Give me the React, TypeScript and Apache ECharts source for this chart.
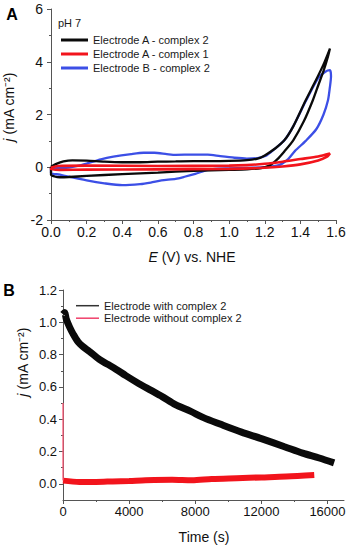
import React, { useEffect, useRef } from "react";
import * as echarts from "echarts";

const FONT = "'Liberation Sans', Arial, Helvetica, sans-serif";
const AX = "#555";
const TXT = "#111";
const BLACK = "#0a0a0a";
const RED = "#f2141c";
const BLUE = "#3c4fe6";

// Panel A: cyclic voltammograms, [E (V vs NHE), j (mA cm-2)]
const legendTop = ["Electrode A - complex 2", "Electrode A - complex 1", "Electrode B - complex 2"];

const cvBlack: [number, number][] = [
  [0.0, 0.02], [0.03, 0.13], [0.07, 0.22], [0.12, 0.26], [0.2, 0.25], [0.3, 0.21], [0.4, 0.19],
  [0.5, 0.19], [0.6, 0.21], [0.7, 0.22], [0.8, 0.23], [0.9, 0.23], [1.0, 0.24], [1.1, 0.27],
  [1.16, 0.33], [1.2, 0.45], [1.26, 0.72], [1.31, 1.02], [1.36, 1.55], [1.43, 2.54], [1.48, 3.2],
  [1.53, 3.9], [1.566, 4.5], [1.555, 4.2], [1.53, 3.65], [1.5, 3.1], [1.47, 2.54], [1.42, 1.75],
  [1.36, 1.02], [1.31, 0.6], [1.27, 0.3], [1.23, 0.08], [1.18, -0.03], [1.1, -0.08], [1.0, -0.1],
  [0.8, -0.14], [0.6, -0.2], [0.4, -0.26], [0.2, -0.33], [0.1, -0.37], [0.05, -0.38], [0.02, -0.35],
  [0.0, -0.28], [0.0, 0.02],
];

const cvRed: [number, number][] = [
  [0.0, -0.02], [0.04, 0.05], [0.2, 0.06], [0.6, 0.05], [1.0, 0.06], [1.1, 0.08], [1.2, 0.13],
  [1.3, 0.21], [1.4, 0.31], [1.5, 0.41], [1.566, 0.52], [1.55, 0.4], [1.5, 0.26], [1.4, 0.11],
  [1.3, 0.03], [1.2, -0.02], [1.0, -0.06], [0.6, -0.08], [0.2, -0.09], [0.05, -0.1], [0.0, -0.08],
  [0.0, -0.02],
];

const cvBlue: [number, number][] = [
  [0.0, -0.05], [0.1, -0.01], [0.15, 0.05], [0.2, 0.14], [0.28, 0.3], [0.35, 0.4], [0.45, 0.5],
  [0.52, 0.55], [0.58, 0.55], [0.65, 0.5], [0.7, 0.47], [0.8, 0.48], [0.88, 0.48], [0.95, 0.42],
  [1.03, 0.36], [1.1, 0.33], [1.16, 0.35], [1.21, 0.45], [1.26, 0.72], [1.31, 1.02], [1.36, 1.55],
  [1.43, 2.5], [1.5, 3.38], [1.54, 3.62], [1.566, 3.68], [1.572, 3.45], [1.565, 3.0], [1.555, 2.54],
  [1.53, 2.0], [1.49, 1.45], [1.43, 1.0], [1.37, 0.62], [1.33, 0.3], [1.28, 0.08], [1.2, 0.0],
  [1.1, -0.02], [1.0, -0.04], [0.92, -0.06], [0.88, -0.1], [0.81, -0.25], [0.75, -0.36], [0.7, -0.44],
  [0.62, -0.5], [0.56, -0.58], [0.5, -0.64], [0.4, -0.68], [0.3, -0.61], [0.2, -0.5], [0.1, -0.36],
  [0.05, -0.28], [0.0, -0.22], [0.0, -0.05],
];

// Panel B: chronoamperometry, [time (s), j (mA cm-2)]
const legendBottom = ["Electrode with complex 2", "Electrode without complex 2"];

const caWith: [number, number][] = [
  [0, 1.05], [100, 1.06], [200, 1.02], [400, 0.97], [600, 0.93], [900, 0.88], [1200, 0.85],
  [1600, 0.82], [2200, 0.77], [2700, 0.74], [3200, 0.71], [3800, 0.67], [4600, 0.62], [5300, 0.58],
  [6000, 0.54], [6800, 0.49], [7700, 0.45], [8500, 0.41], [9500, 0.37], [10800, 0.32], [12000, 0.28],
  [13400, 0.23], [14500, 0.19], [15500, 0.16], [16400, 0.13],
];

const caWithout: [number, number][] = [
  [0, 0.02], [1000, 0.012], [2000, 0.012], [3000, 0.015], [4000, 0.018], [5000, 0.022], [6600, 0.025],
  [7800, 0.022], [9000, 0.03], [10500, 0.035], [12000, 0.04], [13500, 0.045], [15200, 0.055],
];

const caSpike: [number, number][] = [[0, 0.5], [0, 0.02]];

const timeTicks = [0, 4000, 8000, 12000, 16000];
const timeMinorTicks = [2000, 6000, 10000, 14000];
const jTicksB = [0, 0.2, 0.4, 0.6, 0.8, 1.0, 1.2];
const jMinorTicksB = [0.1, 0.3, 0.5, 0.7, 0.9, 1.1];

const axisLine = { show: true, onZero: false, lineStyle: { color: AX, width: 1 } };
const label = (size: number, margin: number, fmt?: (v: number) => string) => ({
  fontSize: size,
  color: TXT,
  fontFamily: FONT,
  margin,
  formatter: fmt,
});

export default function App() {
  const ref = useRef<HTMLDivElement>(null);

  useEffect(() => {
    if (!ref.current) return;
    const chart = echarts.init(ref.current, undefined, { renderer: "svg" });

    const option: any = {
      animation: false,
      backgroundColor: "#fff",
      textStyle: { fontFamily: FONT },
      grid: [
        { left: 51, top: 9, width: 285, height: 211 },
        { left: 63, top: 290, width: 281, height: 210 },
        { left: 63, top: 290, width: 281, height: 210 },
      ],
      xAxis: [
        {
          gridIndex: 0, type: "value", min: 0, max: 1.6, interval: 0.2,
          axisLine, axisTick: { length: 4, lineStyle: { color: AX } },
          minorTick: { show: true, splitNumber: 2, length: 2, lineStyle: { color: AX } },
          splitLine: { show: false },
          axisLabel: label(14, 5, (v: number) => v.toFixed(1)),
        },
        {
          gridIndex: 1, type: "value", min: 0, max: 17000, interval: 4000,
          axisLine, axisTick: { length: 4, customValues: timeTicks, lineStyle: { color: AX } },
          splitLine: { show: false },
          axisLabel: { ...label(13, 5, (v: number) => String(Math.round(v))), customValues: timeTicks },
        },
        {
          gridIndex: 2, type: "value", min: 0, max: 17000,
          axisLine: { show: false, onZero: false },
          axisTick: { length: 2, customValues: timeMinorTicks, lineStyle: { color: AX } },
          splitLine: { show: false },
          axisLabel: { show: false },
        },
      ],
      yAxis: [
        {
          gridIndex: 0, type: "value", min: -2, max: 6, interval: 2,
          axisLine, axisTick: { length: 4, lineStyle: { color: AX } },
          minorTick: { show: true, splitNumber: 2, length: 2, lineStyle: { color: AX } },
          splitLine: { show: false },
          axisLabel: label(14, 8),
        },
        {
          gridIndex: 1, type: "value", min: -0.1, max: 1.2, interval: 0.1,
          axisLine, axisTick: { length: 4, customValues: jTicksB, lineStyle: { color: AX } },
          splitLine: { show: false },
          axisLabel: { ...label(13, 6, (v: number) => v.toFixed(1)), customValues: jTicksB },
        },
        {
          gridIndex: 2, type: "value", min: -0.1, max: 1.2,
          axisLine: { show: false, onZero: false },
          axisTick: { length: 2, customValues: jMinorTicksB, lineStyle: { color: AX } },
          splitLine: { show: false },
          axisLabel: { show: false },
        },
      ],
      legend: [
        {
          data: legendTop,
          orient: "vertical", left: 56, top: 29,
          icon: "rect", itemWidth: 27, itemHeight: 3, itemGap: 2,
          textStyle: { fontSize: 11, color: "#1a1a1a", fontFamily: FONT, lineHeight: 12 },
          selectedMode: false,
        },
        {
          data: [
            { name: legendBottom[0], itemStyle: { color: "#333" } },
            { name: legendBottom[1], itemStyle: { color: "#f0406a" } },
          ],
          orient: "vertical", left: 71, top: 294.7,
          icon: "rect", itemWidth: 23, itemHeight: 1.5, itemGap: 0.5,
          textStyle: { fontSize: 11, color: "#1a1a1a", fontFamily: FONT, lineHeight: 12 },
          selectedMode: false,
        },
      ],
      series: [
        {
          type: "line", name: legendTop[2], xAxisIndex: 0, yAxisIndex: 0, data: cvBlue,
          symbol: "none", showSymbol: false, smooth: 0.25, z: 2,
          lineStyle: { color: BLUE, width: 2.3 }, itemStyle: { color: BLUE },
        },
        {
          type: "line", name: legendTop[0], xAxisIndex: 0, yAxisIndex: 0, data: cvBlack,
          symbol: "none", showSymbol: false, smooth: 0.25, z: 3,
          lineStyle: { color: BLACK, width: 2.3 }, itemStyle: { color: BLACK },
        },
        {
          type: "line", name: legendTop[1], xAxisIndex: 0, yAxisIndex: 0, data: cvRed,
          symbol: "none", showSymbol: false, smooth: 0.25, z: 4,
          lineStyle: { color: RED, width: 2.6 }, itemStyle: { color: RED },
        },
        {
          type: "line", name: legendBottom[0], xAxisIndex: 1, yAxisIndex: 1, data: caWith,
          symbol: "none", showSymbol: false, smooth: 0.3, z: 3,
          lineStyle: { color: BLACK, width: 7 }, itemStyle: { color: BLACK },
        },
        {
          type: "line", name: legendBottom[1], xAxisIndex: 1, yAxisIndex: 1, data: caWithout,
          symbol: "none", showSymbol: false, smooth: 0.3, z: 4,
          lineStyle: { color: RED, width: 6 }, itemStyle: { color: RED },
        },
        {
          type: "line", name: "spike", xAxisIndex: 1, yAxisIndex: 1, data: caSpike,
          symbol: "none", showSymbol: false, z: 4,
          lineStyle: { color: "#ff5a78", width: 1.3 }, itemStyle: { color: "#ff5a78" },
        },
      ],
      graphic: [
        { type: "text", x: 12, y: 14, style: { text: "A", fontSize: 16, fontWeight: "bold", fontFamily: FONT, fill: "#000", align: "center", verticalAlign: "middle" } },
        { type: "text", x: 9, y: 290, style: { text: "B", fontSize: 16, fontWeight: "bold", fontFamily: FONT, fill: "#000", align: "center", verticalAlign: "middle" } },
        { type: "text", x: 58, y: 22.5, style: { text: "pH 7", fontSize: 11, fontFamily: FONT, fill: "#1a1a1a", align: "left", verticalAlign: "middle" } },
        {
          type: "text", x: 192, y: 257,
          style: {
            text: "{i|E} (V) vs. NHE", fontSize: 14, fontFamily: FONT, fill: TXT, align: "center", verticalAlign: "middle",
            rich: { i: { fontStyle: "italic", fontSize: 14, fontFamily: FONT, fill: TXT } },
          },
        },
        {
          type: "text", x: 204, y: 537,
          style: { text: "Time (s)", fontSize: 14, fontFamily: FONT, fill: TXT, align: "center", verticalAlign: "middle" },
        },
        {
          type: "text", x: 9, y: 107, rotation: Math.PI / 2,
          style: {
            text: "{i|j} (mA cm⁻²)", fontSize: 14, fontFamily: FONT, fill: TXT, align: "center", verticalAlign: "middle",
            rich: { i: { fontStyle: "italic", fontSize: 14, fontFamily: FONT, fill: TXT } },
          },
        },
        {
          type: "text", x: 23, y: 362, rotation: Math.PI / 2,
          style: {
            text: "{i|j} (mA cm⁻²)", fontSize: 14, fontFamily: FONT, fill: TXT, align: "center", verticalAlign: "middle",
            rich: { i: { fontStyle: "italic", fontSize: 14, fontFamily: FONT, fill: TXT } },
          },
        },
      ],
    };

    chart.setOption(option);
    return () => chart.dispose();
  }, []);

  return (
    <div
      ref={ref}
      style={{ position: "fixed", left: 0, top: 0, width: 350, height: 548, background: "#fff" }}
    />
  );
}
